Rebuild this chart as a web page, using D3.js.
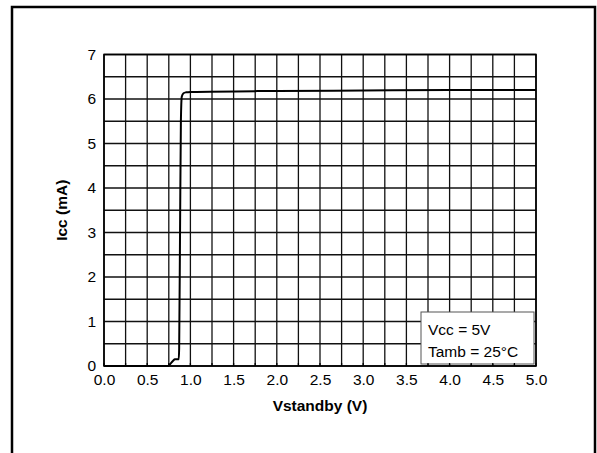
<!DOCTYPE html>
<html>
<head>
<meta charset="utf-8">
<script src="https://cdn.jsdelivr.net/npm/d3@7"></script>
<style>
  html, body { margin: 0; padding: 0; background: #fff; }
  svg { display: block; font-family: "Liberation Sans", Arial, sans-serif; }
</style>
</head>
<body>
<svg id="chart" width="597" height="453"></svg>
<script>
// Supply current versus standby voltage
const vstandby = [0, 0.74, 0.76, 0.8, 0.82, 0.865, 0.87, 0.88, 0.89, 0.9, 0.92, 0.95, 1.0, 2.0, 3.0, 4.0, 5.0];
const icc      = [0, 0,    0.03, 0.12, 0.15, 0.15, 0.4, 3.0,  5.5,  6.05, 6.13, 6.15, 6.16, 6.18, 6.19, 6.2, 6.2];

const xTicks = [0, 0.5, 1, 1.5, 2, 2.5, 3, 3.5, 4, 4.5, 5];
const yTicks = [0, 1, 2, 3, 4, 5, 6, 7];
const xGrid = d3.range(0, 5.0001, 0.25);
const yGrid = d3.range(0, 7.0001, 0.5);
const legendLines = ["Vcc = 5V", "Tamb = 25\u00B0C"];

const svg = d3.select("#chart");
const m = { left: 104, right: 536, top: 54.5, bottom: 366 };

const x = d3.scaleLinear().domain([0, 5]).range([m.left, m.right]);
const y = d3.scaleLinear().domain([0, 7]).range([m.bottom, m.top]);

// outer frame (open at the bottom)
svg.append("path")
  .attr("d", `M12,460 V7 H595 V460`)
  .attr("fill", "none").attr("stroke", "#000").attr("stroke-width", 2.5);

// grid
const grid = svg.append("g").attr("stroke", "#111").attr("stroke-width", 1.3);
grid.selectAll("line.v").data(xGrid).join("line").attr("class", "v")
  .attr("x1", d => x(d)).attr("x2", d => x(d))
  .attr("y1", m.top).attr("y2", m.bottom);
grid.selectAll("line.h").data(yGrid).join("line").attr("class", "h")
  .attr("y1", d => y(d)).attr("y2", d => y(d))
  .attr("x1", m.left).attr("x2", m.right);

// axes
const xAxis = svg.append("g").attr("transform", `translate(0,${m.bottom})`)
  .call(d3.axisBottom(x).tickValues(xTicks).tickFormat(d3.format(".1f")).tickSize(0).tickPadding(8));
const yAxis = svg.append("g").attr("transform", `translate(${m.left},0)`)
  .call(d3.axisLeft(y).tickValues(yTicks).tickFormat(d3.format("d")).tickSize(0).tickPadding(8));
[xAxis, yAxis].forEach(a => {
  a.select(".domain").remove();
  a.selectAll("text").attr("font-size", 15.5).attr("fill", "#000")
    .attr("font-family", "'Liberation Sans', Arial, sans-serif");
});

// plot frame
svg.append("rect")
  .attr("x", m.left).attr("y", m.top)
  .attr("width", m.right - m.left).attr("height", m.bottom - m.top)
  .attr("fill", "none").attr("stroke", "#000").attr("stroke-width", 1.6);

// curve
const data = vstandby.map((v, i) => [v, icc[i]]);
svg.append("path")
  .datum(data)
  .attr("fill", "none").attr("stroke", "#000").attr("stroke-width", 2)
  .attr("stroke-linejoin", "round")
  .attr("d", d3.line().x(d => x(d[0])).y(d => y(d[1])).curve(d3.curveMonotoneX));

// conditions box
const box = svg.append("g");
box.append("rect")
  .attr("x", 421).attr("y", 312).attr("width", 113).attr("height", 52)
  .attr("fill", "#fff").attr("stroke", "#555").attr("stroke-width", 1);
box.selectAll("text").data(legendLines).join("text")
  .attr("x", 428).attr("y", (d, i) => 335 + i * 22)
  .attr("font-size", 15.5).attr("fill", "#000")
  .text(d => d);

// small inward ticks along the bottom
svg.append("g").selectAll("line").data(xGrid).join("line")
  .attr("x1", d => x(d)).attr("x2", d => x(d))
  .attr("y1", m.bottom).attr("y2", m.bottom - 3)
  .attr("stroke", "#000").attr("stroke-width", 1.3);

// axis titles
svg.append("text")
  .attr("x", (m.left + m.right) / 2).attr("y", 411)
  .attr("text-anchor", "middle").attr("font-size", 15.5).attr("font-weight", "bold")
  .text("Vstandby (V)");
svg.append("text")
  .attr("transform", `translate(67,${(m.top + m.bottom) / 2}) rotate(-90)`)
  .attr("text-anchor", "middle").attr("font-size", 15.5).attr("font-weight", "bold")
  .text("Icc (mA)");
</script>
</body>
</html>
